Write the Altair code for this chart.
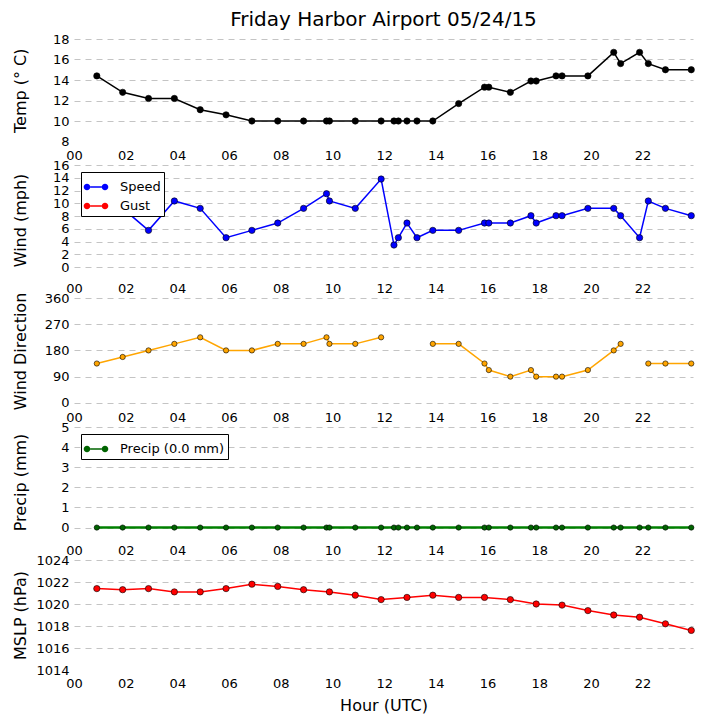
import altair as alt
import pandas as pd

# ---------------- data ----------------
obs_hours = [0.883, 1.883, 2.883, 3.883, 4.883, 5.883, 6.883, 7.883, 8.883, 9.77,
             9.883, 10.883, 11.883, 12.38, 12.55, 12.883, 13.27, 13.883, 14.883, 15.883,
             16.05, 16.883, 17.68, 17.883, 18.65, 18.883, 19.883, 20.883, 21.15, 21.883,
             22.22, 22.883, 23.883]
temp_c = [14.4, 12.8, 12.2, 12.2, 11.1, 10.6, 10.0, 10.0, 10.0, 10.0,
          10.0, 10.0, 10.0, 10.0, 10.0, 10.0, 10.0, 10.0, 11.7, 13.3,
          13.3, 12.8, 13.9, 13.9, 14.4, 14.4, 14.4, 16.7, 15.6, 16.7,
          15.6, 15.0, 15.0]
wind_speed_mph = [9.2, 9.2, 5.75, 10.36, 9.2, 4.6, 5.75, 6.9, 9.2, 11.5,
                  10.36, 9.2, 13.8, 3.45, 4.6, 6.9, 4.6, 5.75, 5.75, 6.9,
                  6.9, 6.9, 8.05, 6.9, 8.05, 8.05, 9.2, 9.2, 8.05, 4.6,
                  10.36, 9.2, 8.05]
wind_dir_deg = [135, 157.5, 180, 202.5, 225, 180, 180, 202.5, 202.5, 225,
                202.5, 202.5, 225, None, None, None, None, 202.5, 202.5, 135,
                112.5, 90, 112.5, 90, 90, 90, 112.5, 180, 202.5, None,
                135, 135, 135]
precip_mm = [0.0, 0.0, 0.0, 0.0, 0.0, 0.0, 0.0, 0.0, 0.0, 0.0,
             0.0, 0.0, 0.0, 0.0, 0.0, 0.0, 0.0, 0.0, 0.0, 0.0,
             0.0, 0.0, 0.0, 0.0, 0.0, 0.0, 0.0, 0.0, 0.0, 0.0,
             0.0, 0.0, 0.0]
mslp_hours = [0.883, 1.883, 2.883, 3.883, 4.883, 5.883, 6.883, 7.883, 8.883, 9.883,
              10.883, 11.883, 12.883, 13.883, 14.883, 15.883, 16.883, 17.883, 18.883, 19.883,
              20.883, 21.883, 22.883, 23.883]
mslp_hpa = [1021.4, 1021.3, 1021.4, 1021.1, 1021.1, 1021.4, 1021.8, 1021.6, 1021.3, 1021.1,
            1020.8, 1020.4, 1020.6, 1020.8, 1020.6, 1020.6, 1020.4, 1020.0, 1019.9, 1019.4,
            1019.0, 1018.8, 1018.2, 1017.6]

x_tick_values = [0, 2, 4, 6, 8, 10, 12, 14, 16, 18, 20, 22]
temp_ticks = [8, 10, 12, 14, 16, 18]
wind_ticks = [0, 2, 4, 6, 8, 10, 12, 14, 16]
dir_ticks = [0, 90, 180, 270, 360]
precip_ticks = [0, 1, 2, 3, 4, 5]
mslp_ticks = [1014, 1016, 1018, 1020, 1022, 1024]

# ---------------- tables ----------------
df_temp = pd.DataFrame({"t": obs_hours, "v": temp_c})
df_wind = pd.DataFrame({"t": obs_hours, "v": wind_speed_mph, "series": "Speed"})
seg, s, prev_null = [], 0, False
for d in wind_dir_deg:
    if d is None:
        prev_null = True
    else:
        if prev_null:
            s += 1
        prev_null = False
    seg.append(s)
df_dir = pd.DataFrame({"t": obs_hours, "v": wind_dir_deg, "seg": seg}).dropna()
df_precip = pd.DataFrame({"t": obs_hours, "v": precip_mm, "series": "Precip (0.0 mm)"})
df_mslp = pd.DataFrame({"t": mslp_hours, "v": mslp_hpa})

# ---------------- styling helpers ----------------
FONT = "DejaVu Sans"
W = 619
XDOM = [0, 23.95]
GRID = "#c4c4c4"
LEG_PATH = ("M-0.475,-0.065L0.475,-0.065L0.475,0.065L-0.475,0.065Z"
            "M-1.025,0A0.275,0.275,0,1,0,-0.475,0A0.275,0.275,0,1,0,-1.025,0Z"
            "M0.475,0A0.275,0.275,0,1,0,1.025,0A0.275,0.275,0,1,0,0.475,0Z")


def xenc(title=None):
    kw = dict(values=x_tick_values,
              labelExpr="datum.value < 10 ? '0' + datum.value : '' + datum.value",
              grid=False, domain=False, ticks=False, labelPadding=7.5, labelOverlap=False,
              labelFontSize=13, labelFont=FONT, labelColor="black", labelFlush=False)
    if title:
        axis = alt.Axis(title=title, titleFont=FONT, titleFontSize=16,
                        titleFontWeight="normal", titleColor="black", titlePadding=7, **kw)
    else:
        axis = alt.Axis(title=None, **kw)
    return alt.X("t:Q", scale=alt.Scale(domain=XDOM, nice=False, zero=False), axis=axis)


def yenc(title, ticks, domain, hide=None):
    grid_op = 1
    if hide is not None:
        grid_op = {"condition": {"test": f"datum.value === {hide}", "value": 0}, "value": 1}
    axis = alt.Axis(title=title, values=ticks, format="d", grid=True, gridDash=[6, 5],
                    gridColor=GRID, gridWidth=1, gridOpacity=grid_op, domain=False,
                    ticks=False, labelOverlap=False, labelPadding=5, labelFontSize=13,
                    labelFont=FONT, labelColor="black", titleFont=FONT, titleFontSize=16,
                    titleFontWeight="normal", titleColor="black", titleX=-45.5)
    return alt.Y("v:Q", scale=alt.Scale(domain=domain, nice=False, zero=False), axis=axis)


def legend():
    return alt.Legend(title=None, orient="top-left", offset=7, symbolType=LEG_PATH,
                      symbolSize=576, symbolStrokeWidth=0, labelFont=FONT, labelFontSize=13,
                      labelColor="black", fillColor="white", strokeColor="black",
                      padding=3, rowPadding=0, labelOffset=12, cornerRadius=0)


def panel(df, color, ytitle, ticks, domain, height, pt_size=40, lw=1.5,
          hide=None, xtitle=None, detail=None, leg_domain=None, leg_range=None):
    y = yenc(ytitle, ticks, domain, hide)
    x = xenc(xtitle)
    line_enc = dict(x=x, y=y)
    if detail:
        line_enc["detail"] = f"{detail}:N"
    line = alt.Chart(df).mark_line(color=color, strokeWidth=lw).encode(**line_enc)
    pt_kw = dict(filled=True, size=pt_size, opacity=1, stroke="black", strokeWidth=0.6)
    if leg_domain:
        pts = alt.Chart(df).mark_point(**pt_kw).encode(
            x=x, y=y,
            color=alt.Color("series:N", scale=alt.Scale(domain=leg_domain, range=leg_range),
                            legend=legend()))
    else:
        pts = alt.Chart(df).mark_point(color=color, **pt_kw).encode(x=x, y=y)
    return alt.layer(line, pts).properties(width=W, height=height)


p_temp = panel(df_temp, "#000000", "Temp (° C)", temp_ticks, [8, 18], 102.5, hide=8)
p_wind = panel(df_wind, "#0000ff", "Wind (mph)", wind_ticks, [-1.25, 16], 110,
               leg_domain=["Speed", "Gust"], leg_range=["#0000ff", "#ff0000"])
p_dir = panel(df_dir, "#ffa500", "Wind Direction", dir_ticks, [-4, 360], 106,
              pt_size=28, detail="seg")
p_precip = panel(df_precip, "#008000", "Precip (mm)", precip_ticks, [-0.47, 5], 110,
                 pt_size=28, lw=2.5,
                 leg_domain=["Precip (0.0 mm)"], leg_range=["#006400"])
p_mslp = panel(df_mslp, "#ff0000", "MSLP (hPa)", mslp_ticks, [1014, 1024], 110,
               hide=1014, xtitle="Hour (UTC)")

chart = alt.vconcat(p_temp, p_wind, p_dir, p_precip, p_mslp, spacing=23, bounds="flush").resolve_scale(
    color="independent").resolve_legend(color="independent").properties(
    title=alt.TitleParams("Friday Harbor Airport 05/24/15", font=FONT, fontSize=20,
                          fontWeight="normal", color="black", anchor="middle",
                          frame="group", offset=3),
    padding={"left": 4, "top": 2, "right": 0, "bottom": 0},
    background="white",
).configure_view(strokeWidth=0)

chart.save("out.html", embed_options={"renderer": "svg", "actions": False})
